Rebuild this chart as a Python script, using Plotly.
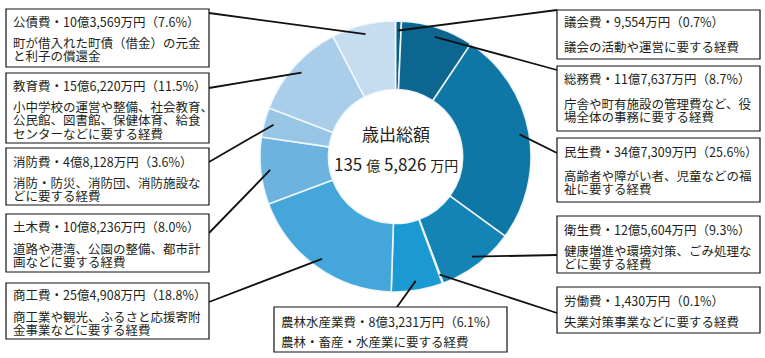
import math
import plotly.graph_objects as go

W, H = 765, 358

# ---- data ----
categories = ["議会費", "総務費", "民生費", "衛生費", "労働費", "農林水産業費",
              "商工費", "土木費", "消防費", "教育費", "公債費"]
values_man_yen = [9554, 117637, 347309, 125604, 1430, 83231,
                  254908, 108236, 48128, 156220, 103569]
amount_labels = ["9,554万円", "11億7,637万円", "34億7,309万円", "12億5,604万円",
                 "1,430万円", "8億3,231万円", "25億4,908万円", "10億8,236万円",
                 "4億8,128万円", "15億6,220万円", "10億3,569万円"]
percent_labels = ["0.7%", "8.7%", "25.6%", "9.3%", "0.1%", "6.1%",
                  "18.8%", "8.0%", "3.6%", "11.5%", "7.6%"]
descriptions = [
    ["議会の活動や運営に要する経費"],
    ["庁舎や町有施設の管理費など、役", "場全体の事務に要する経費"],
    ["高齢者や障がい者、児童などの福", "祉に要する経費"],
    ["健康増進や環境対策、ごみ処理な", "どに要する経費"],
    ["失業対策事業などに要する経費"],
    ["農林・畜産・水産業に要する経費"],
    ["商工業や観光、ふるさと応援寄附", "金事業などに要する経費"],
    ["道路や港湾、公園の整備、都市計", "画などに要する経費"],
    ["消防・防災、消防団、消防施設な", "どに要する経費"],
    ["小中学校の運営や整備、社会教育、", "公民館、図書館、保健体育、給食", "センターなどに要する経費"],
    ["町が借入れた町債（借金）の元金", "と利子の償還金"],
]
center_title = "歳出総額"
total_label = ("135", "億", "5,826", "万円")

# ---- style ----
colors = ["#0d5f86", "#0d6690", "#0e77a5", "#1384b5", "#1590c4", "#1b9ad2",
          "#45a6db", "#6db3df", "#97c5e6", "#aacdea", "#c6dcef"]
FONT = "Noto Sans CJK JP"
TXT = "#231f20"
FS = 12.5
LINE_STEP = 13.2

# pie placement (pixels)
cx, cy, R = 395.5, 156.5, 135.5

# box rectangles in pixels (x0, y0, x1, y1) and leader-line start points
boxes = [
    (557, 10, 760, 59), (557, 66, 760, 131), (557, 138, 760, 202),
    (557, 216, 760, 273), (557, 287, 760, 333), (274, 307, 507, 352),
    (6, 283, 209, 339), (6, 214, 209, 272), (6, 148, 209, 205),
    (6, 73, 209, 143), (6, 9, 209, 67),
]
starts = [(557, 10), (557, 70), (557, 153), (557, 255), (557, 313), (397, 307),
          (209, 302), (209, 233), (209, 162), (209, 88), (209, 13)]
title_off = [12, 13, 13.5, 13, 13, 14.5, 11.5, 12.5, 13.5, 12, 12.5]
desc_off = [36.5, 37, 37, 34, 34.5, 34.5, 33.5, 34, 34, 33.7, 33.5]


def px(x):
    return x / W


def py(y):
    return 1 - y / H


fig = go.Figure(go.Pie(
    labels=categories, values=values_man_yen, sort=False, direction="clockwise",
    rotation=0, hole=0.495, textinfo="none", hoverinfo="label+percent",
    marker=dict(colors=colors, line=dict(color="rgba(240,248,253,0.95)", width=1.6)),
    domain=dict(x=[px(cx - R), px(cx + R)], y=[py(cy + R), py(cy - R)]),
    showlegend=False,
))

shapes = []
annotations = []
total = sum(values_man_yen)
cum = 0.0
for i, v in enumerate(values_man_yen):
    mid = (cum + v / 2) / total
    cum += v
    ang = 2 * math.pi * mid
    r = 0.93 * R
    ax = cx + r * math.sin(ang)
    ay = cy - r * math.cos(ang)
    sx, sy = starts[i]
    shapes.append(dict(type="line", xref="paper", yref="paper",
                       x0=px(sx), y0=py(sy), x1=px(ax), y1=py(ay),
                       line=dict(color="#111111", width=1.8)))
    x0, y0, x1, y1 = boxes[i]
    shapes.append(dict(type="rect", xref="paper", yref="paper",
                       x0=px(x0), y0=py(y0), x1=px(x1), y1=py(y1),
                       line=dict(color="#111111", width=1.2), fillcolor="white"))
    title = f"{categories[i]}・{amount_labels[i]}（{percent_labels[i]}）"
    annotations.append(dict(xref="paper", yref="paper", x=px(x0 + 6),
                            y=py(y0 + title_off[i]),
                            xanchor="left", yanchor="middle", showarrow=False,
                            text=title, align="left", borderpad=0,
                            font=dict(family=FONT, size=FS, color=TXT)))
    for k, line in enumerate(descriptions[i]):
        annotations.append(dict(xref="paper", yref="paper", x=px(x0 + 6),
                                y=py(y0 + desc_off[i] + k * LINE_STEP),
                                xanchor="left", yanchor="middle", showarrow=False,
                                text=line, align="left", borderpad=0,
                                font=dict(family=FONT, size=FS, color=TXT)))

annotations.append(dict(xref="paper", yref="paper", x=px(cx), y=py(133),
                        xanchor="center", yanchor="middle", showarrow=False,
                        text=center_title,
                        font=dict(family=FONT, size=17, color=TXT)))
a, b, c, d = total_label
annotations.append(dict(xref="paper", yref="paper", x=px(cx), y=py(163),
                        xanchor="center", yanchor="middle", showarrow=False,
                        text=(f"{a} <span style='font-size:14px'>{b}</span> {c} "
                              f"<span style='font-size:14px'>{d}</span>"),
                        font=dict(family=FONT, size=17, color=TXT)))

fig.update_layout(
    width=W, height=H, margin=dict(l=0, r=0, t=0, b=0),
    paper_bgcolor="white", plot_bgcolor="white",
    shapes=shapes, annotations=annotations,
)
fig.write_html(
    "out.html",
    config={"displayModeBar": False},
    post_script="document.body.style.margin='0px';document.body.style.overflow='hidden';",
)
